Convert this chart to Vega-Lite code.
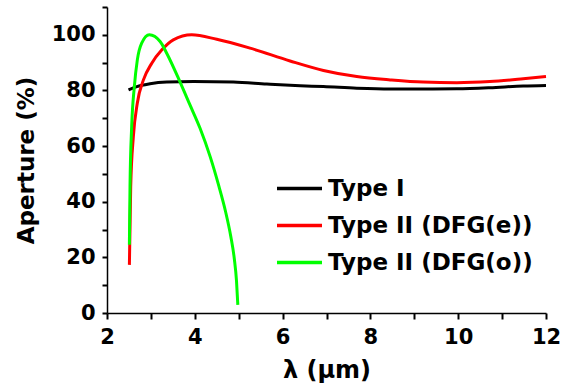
{
  "$schema": "https://vega.github.io/schema/vega-lite/v6.json",
  "width": 439,
  "height": 306,
  "autosize": {"type": "none"},
  "padding": {"left": 107, "top": 7, "right": 22, "bottom": 79},
  "background": "white",
  "config": {"view": {"stroke": null}},
  "data": {
    "values": [
      {"lambda": 2.49, "aperture": 80.2, "type": "Type I"},
      {"lambda": 2.68, "aperture": 81.4, "type": "Type I"},
      {"lambda": 2.98, "aperture": 82.4, "type": "Type I"},
      {"lambda": 3.36, "aperture": 83.0, "type": "Type I"},
      {"lambda": 3.97, "aperture": 83.2, "type": "Type I"},
      {"lambda": 4.88, "aperture": 83.0, "type": "Type I"},
      {"lambda": 5.64, "aperture": 82.3, "type": "Type I"},
      {"lambda": 6.4, "aperture": 81.7, "type": "Type I"},
      {"lambda": 6.93, "aperture": 81.4, "type": "Type I"},
      {"lambda": 7.69, "aperture": 80.8, "type": "Type I"},
      {"lambda": 8.45, "aperture": 80.5, "type": "Type I"},
      {"lambda": 9.2, "aperture": 80.5, "type": "Type I"},
      {"lambda": 9.97, "aperture": 80.6, "type": "Type I"},
      {"lambda": 10.72, "aperture": 81.0, "type": "Type I"},
      {"lambda": 11.48, "aperture": 81.6, "type": "Type I"},
      {"lambda": 12.0, "aperture": 81.8, "type": "Type I"},

      {"lambda": 2.51, "aperture": 17.3, "type": "Type II (DFG(e))"},
      {"lambda": 2.54, "aperture": 45.4, "type": "Type II (DFG(e))"},
      {"lambda": 2.6, "aperture": 63.4, "type": "Type II (DFG(e))"},
      {"lambda": 2.69, "aperture": 75.4, "type": "Type II (DFG(e))"},
      {"lambda": 2.83, "aperture": 83.8, "type": "Type II (DFG(e))"},
      {"lambda": 3.02, "aperture": 89.8, "type": "Type II (DFG(e))"},
      {"lambda": 3.25, "aperture": 94.6, "type": "Type II (DFG(e))"},
      {"lambda": 3.51, "aperture": 98.2, "type": "Type II (DFG(e))"},
      {"lambda": 3.93, "aperture": 100.0, "type": "Type II (DFG(e))"},
      {"lambda": 4.5, "aperture": 98.4, "type": "Type II (DFG(e))"},
      {"lambda": 5.26, "aperture": 95.2, "type": "Type II (DFG(e))"},
      {"lambda": 6.17, "aperture": 90.6, "type": "Type II (DFG(e))"},
      {"lambda": 6.93, "aperture": 87.2, "type": "Type II (DFG(e))"},
      {"lambda": 7.69, "aperture": 85.0, "type": "Type II (DFG(e))"},
      {"lambda": 8.45, "aperture": 83.8, "type": "Type II (DFG(e))"},
      {"lambda": 9.2, "aperture": 83.0, "type": "Type II (DFG(e))"},
      {"lambda": 9.97, "aperture": 82.8, "type": "Type II (DFG(e))"},
      {"lambda": 10.72, "aperture": 83.2, "type": "Type II (DFG(e))"},
      {"lambda": 11.48, "aperture": 84.2, "type": "Type II (DFG(e))"},
      {"lambda": 12.0, "aperture": 85.0, "type": "Type II (DFG(e))"},

      {"lambda": 2.51, "aperture": 24.5, "type": "Type II (DFG(o))"},
      {"lambda": 2.524, "aperture": 45.4, "type": "Type II (DFG(o))"},
      {"lambda": 2.562, "aperture": 67.0, "type": "Type II (DFG(o))"},
      {"lambda": 2.623, "aperture": 81.4, "type": "Type II (DFG(o))"},
      {"lambda": 2.691, "aperture": 91.0, "type": "Type II (DFG(o))"},
      {"lambda": 2.79, "aperture": 97.0, "type": "Type II (DFG(o))"},
      {"lambda": 2.965, "aperture": 100.0, "type": "Type II (DFG(o))"},
      {"lambda": 3.21, "aperture": 97.6, "type": "Type II (DFG(o))"},
      {"lambda": 3.36, "aperture": 93.4, "type": "Type II (DFG(o))"},
      {"lambda": 3.66, "aperture": 83.2, "type": "Type II (DFG(o))"},
      {"lambda": 3.89, "aperture": 74.8, "type": "Type II (DFG(o))"},
      {"lambda": 4.12, "aperture": 66.4, "type": "Type II (DFG(o))"},
      {"lambda": 4.35, "aperture": 56.2, "type": "Type II (DFG(o))"},
      {"lambda": 4.55, "aperture": 45.5, "type": "Type II (DFG(o))"},
      {"lambda": 4.7, "aperture": 36.5, "type": "Type II (DFG(o))"},
      {"lambda": 4.82, "aperture": 27.5, "type": "Type II (DFG(o))"},
      {"lambda": 4.9, "aperture": 19.5, "type": "Type II (DFG(o))"},
      {"lambda": 4.95, "aperture": 11.5, "type": "Type II (DFG(o))"},
      {"lambda": 4.98, "aperture": 2.9, "type": "Type II (DFG(o))"}
    ]
  },
  "mark": {"type": "line", "strokeWidth": 3, "interpolate": "monotone"},
  "encoding": {
    "x": {
      "field": "lambda",
      "type": "quantitative",
      "scale": {"domain": [2, 12], "nice": false, "zero": false},
      "axis": {
        "title": "λ (µm)",
        "values": [2, 3, 4, 5, 6, 7, 8, 9, 10, 11, 12],
        "labelExpr": "datum.value % 2 === 0 ? datum.label : ''",
        "grid": false,
        "domainColor": "#000000",
        "domainWidth": 1.5,
        "tickColor": "#000000",
        "tickWidth": 2,
        "tickSize": 6,
        "labelAlign": "center",
        "labelFont": "DejaVu Sans",
        "labelFontWeight": "bold",
        "labelFontSize": 21,
        "labelColor": "#000000",
        "labelPadding": 7,
        "labelOverlap": false,
        "titleFont": "DejaVu Sans",
        "titleFontWeight": "bold",
        "titleFontSize": 24,
        "titleColor": "#000000",
        "titlePadding": 11
      }
    },
    "y": {
      "field": "aperture",
      "type": "quantitative",
      "scale": {"domain": [0, 110], "nice": false},
      "axis": {
        "title": "Aperture (%)",
        "values": [0, 10, 20, 30, 40, 50, 60, 70, 80, 90, 100, 110],
        "labelExpr": "datum.value % 20 === 0 && datum.value <= 100 ? datum.label : ''",
        "grid": false,
        "domainColor": "#000000",
        "domainWidth": 1.5,
        "tickColor": "#000000",
        "tickWidth": 2,
        "tickSize": 5,
        "labelBaseline": "middle",
        "labelFont": "DejaVu Sans",
        "labelFontWeight": "bold",
        "labelFontSize": 21,
        "labelColor": "#000000",
        "labelPadding": 7,
        "labelOverlap": false,
        "titleFont": "DejaVu Sans",
        "titleFontWeight": "bold",
        "titleFontSize": 23,
        "titleColor": "#000000",
        "titlePadding": 13
      }
    },
    "color": {
      "field": "type",
      "type": "nominal",
      "scale": {
        "domain": ["Type I", "Type II (DFG(e))", "Type II (DFG(o))"],
        "range": ["#000000", "#ff0000", "#00ff00"]
      },
      "legend": {
        "title": null,
        "orient": "none",
        "legendX": 168,
        "legendY": 157,
        "symbolType": "stroke",
        "symbolSize": 2025,
        "symbolStrokeWidth": 3.5,
        "labelFont": "DejaVu Sans",
        "labelFontWeight": "bold",
        "labelFontSize": 23,
        "labelColor": "#000000",
        "labelOffset": 4,
        "labelLimit": 400,
        "rowPadding": -1
      }
    }
  }
}
